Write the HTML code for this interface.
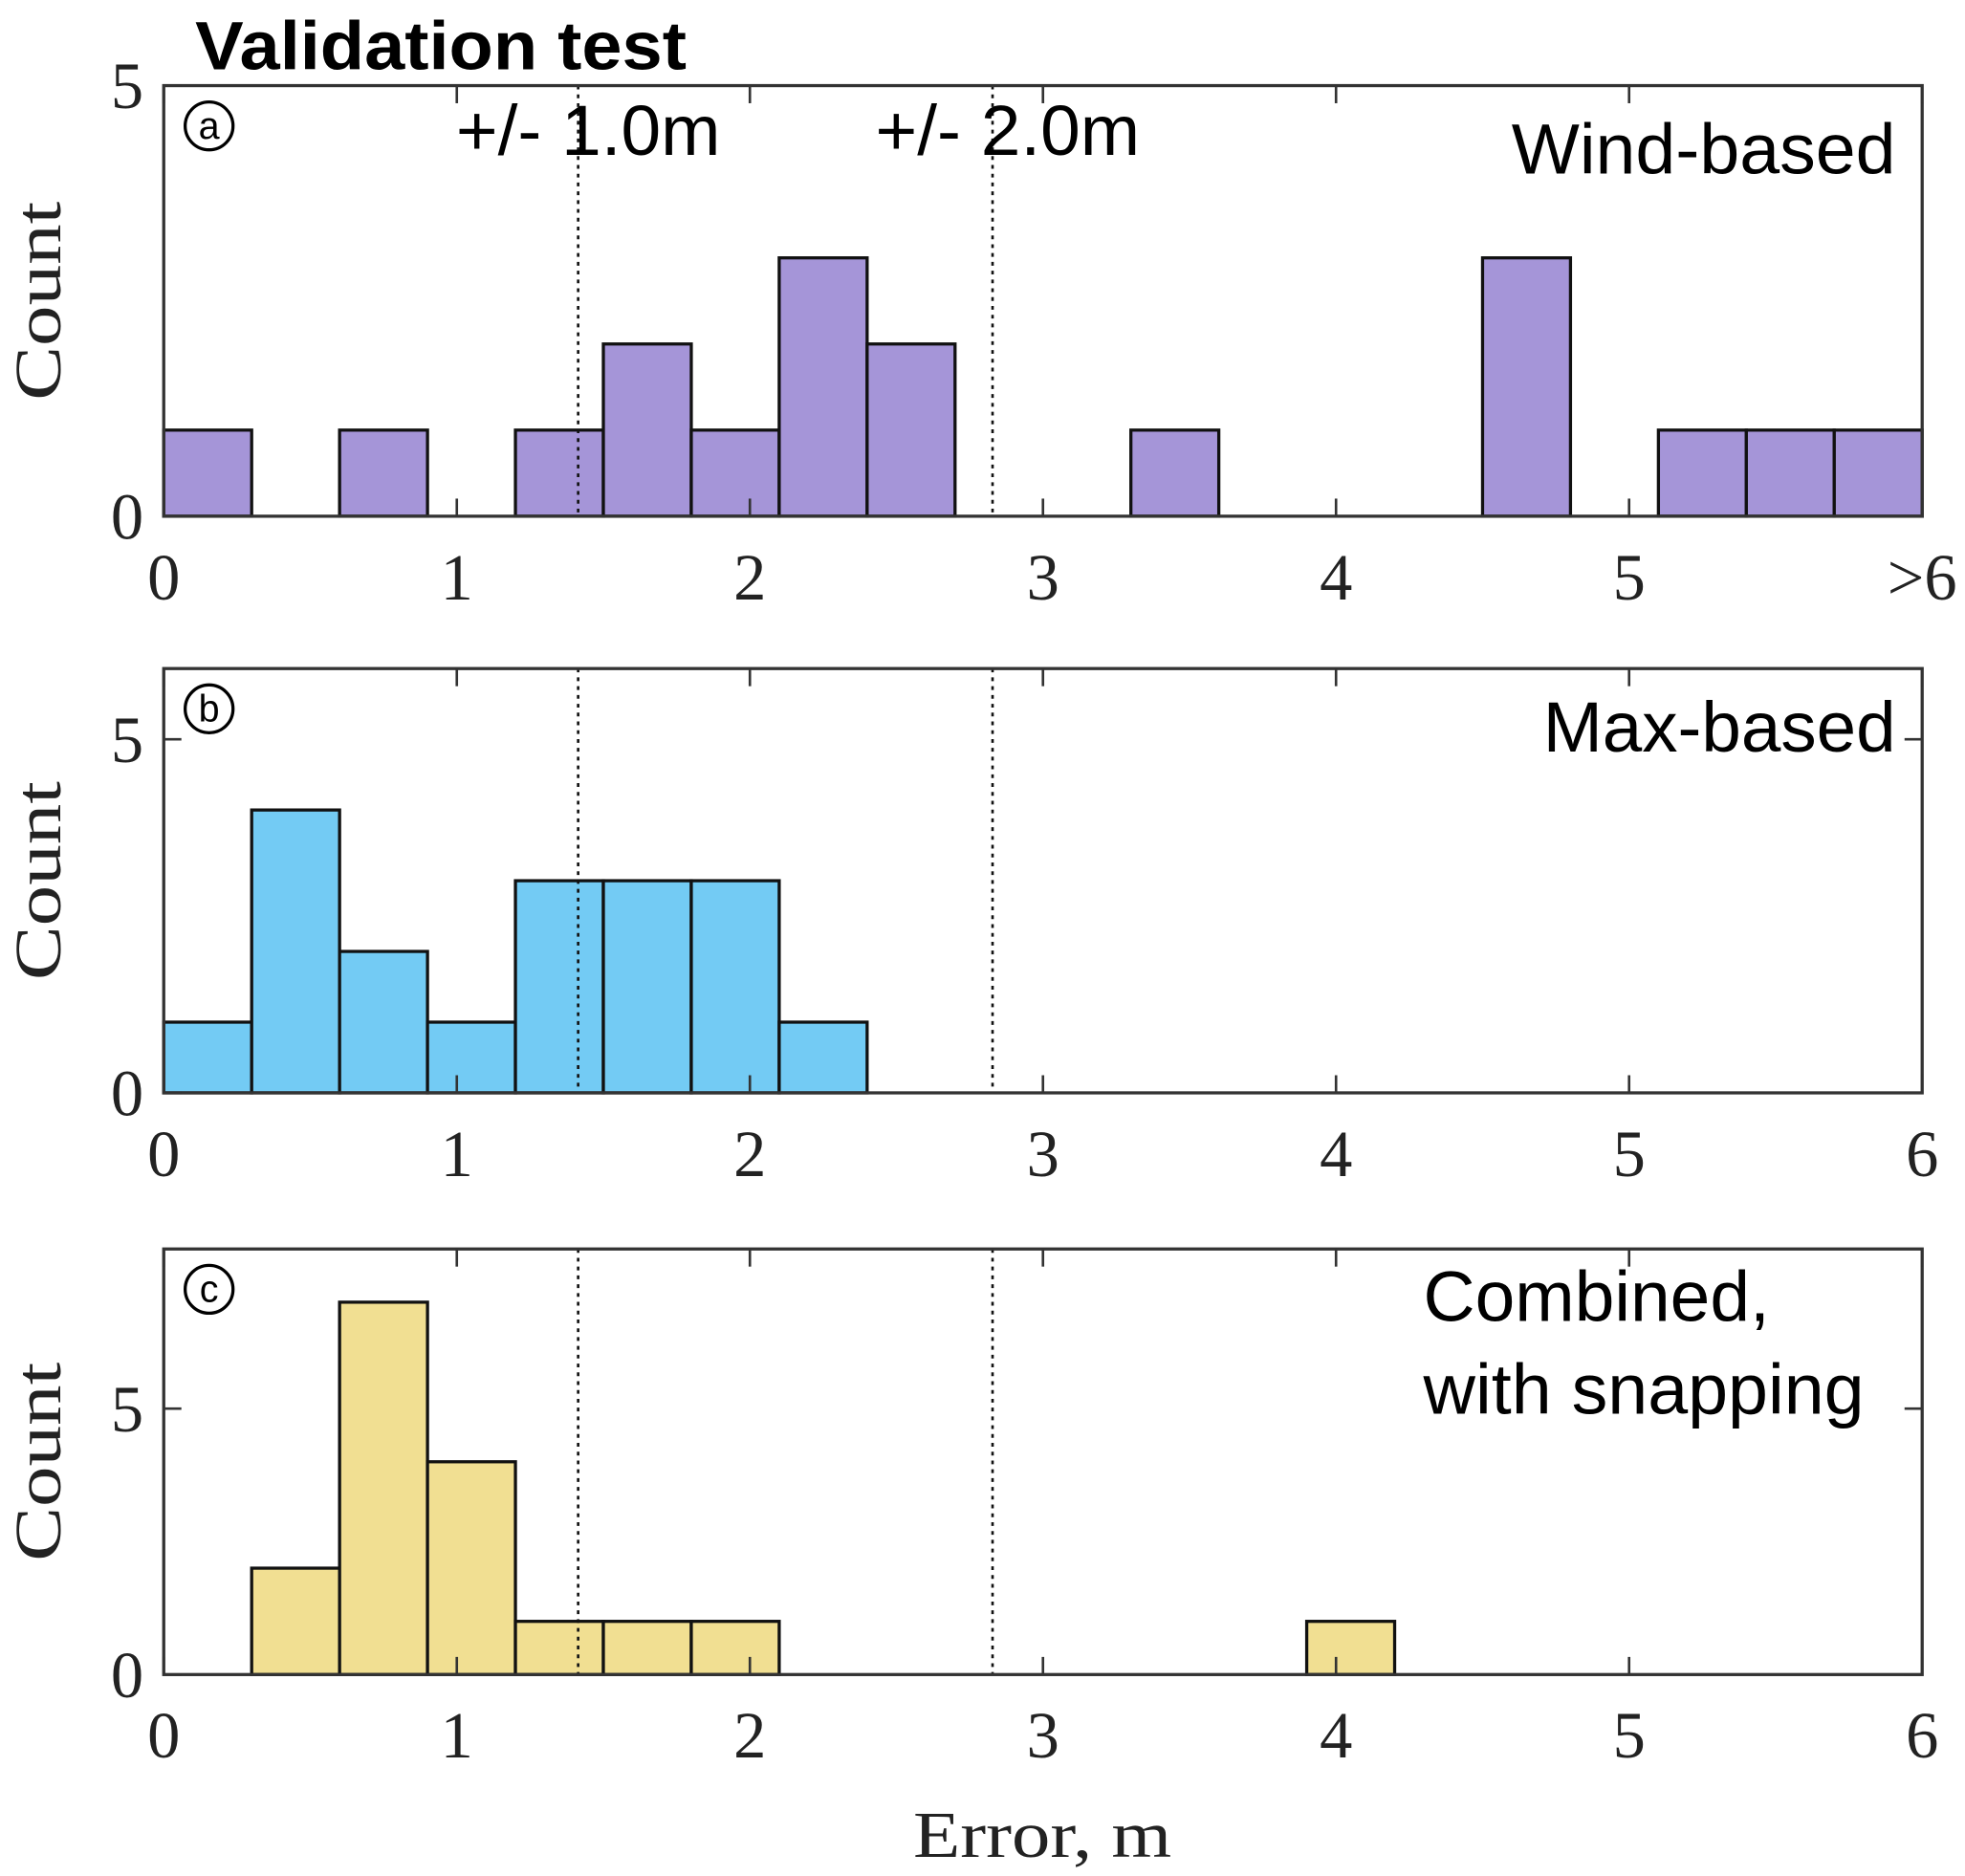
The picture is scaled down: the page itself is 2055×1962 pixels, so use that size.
<!DOCTYPE html>
<html><head><meta charset="utf-8"><style>
html,body{margin:0;padding:0;background:#fff;}
svg{display:block;}
.tick{font-family:"Liberation Serif",serif;font-size:52px;fill:#222;}
.ann{font-family:"Liberation Sans",sans-serif;font-size:56px;fill:#000;}
</style></head><body>
<svg id="chart" xmlns="http://www.w3.org/2000/svg" width="2055" height="1962" viewBox="0 0 1560 1490" preserveAspectRatio="none">
<text x="155" y="55" font-family="Liberation Sans, sans-serif" font-weight="bold" font-size="54" textLength="390" lengthAdjust="spacingAndGlyphs">Validation test</text>
</svg>
<script>
const binWidth = 0.3;
const countsWind = [1,0,1,0,1,2,1,3,2,0,0,1,0,0,0,3,0,1,1,1];
const countsMax = [1,4,2,1,3,3,3,1,0,0,0,0,0,0,0,0,0,0,0,0];
const countsCombined = [0,2,7,4,1,1,1,0,0,0,0,0,0,1,0,0,0,0,0,0];
const xTicks = [0,1,2,3,4,5,6];
const xLabelsA = ["0","1","2","3","4","5",">6"];
const xLabelsB = ["0","1","2","3","4","5","6"];
const refLines = [1.414, 2.828];
const refLabels = ["+/- 1.0m", "+/- 2.0m"];

const NS = "http://www.w3.org/2000/svg";
const svg = document.getElementById('chart');
function mk(tag, attrs, parent){const e=document.createElementNS(NS,tag);for(const k in attrs)e.setAttribute(k,attrs[k]);(parent||svg).appendChild(e);return e;}

const X0=130, X1=1526;
function xs(v){return X0+(X1-X0)*v/6;}

const panels=[
 {key:'a',top:68,bottom:410,ymax:5,counts:countsWind,color:'#a595d8',labels:xLabelsA,letter:'a',lines:['Wind-based'],lx:[1200],lw:[305],ly:[138],rTick:false},
 {key:'b',top:531,bottom:868,ymax:6,counts:countsMax,color:'#73cbf4',labels:xLabelsB,letter:'b',lines:['Max-based'],lx:[1225],lw:[280],ly:[597],rTick:true},
 {key:'c',top:992,bottom:1330,ymax:8,counts:countsCombined,color:'#f1df92',labels:xLabelsB,letter:'c',lines:['Combined,','with snapping'],lx:[1130,1130],lw:[275,350],ly:[1049,1123],rTick:true}
];

panels.forEach(p=>{
  const g=mk('g',{});
  
  
  const ys=v=>p.bottom-(p.bottom-p.top)*v/p.ymax;
  p.counts.forEach((c,i)=>{
    if(c<=0) return;
    const r=mk('rect',{x:xs(i*binWidth),y:ys(c),width:xs((i+1)*binWidth)-xs(i*binWidth),height:ys(0)-ys(c),fill:p.color,stroke:'#111','stroke-width':2.5},g);
    
    
  });
  refLines.forEach((v,i)=>{
    const l=mk('line',{x1:xs(v),x2:xs(v),y1:p.top,y2:p.bottom,stroke:'#111','stroke-width':2,'stroke-dasharray':'3,4'},g);
    
    
  });
  const f=mk('rect',{x:X0,y:p.top,width:X1-X0,height:p.bottom-p.top,fill:'none',stroke:'#333','stroke-width':2.5},g);
  
  
  xTicks.forEach((t,i)=>{
    mk('line',{x1:xs(t),x2:xs(t),y1:p.top,y2:p.top+14,stroke:'#333','stroke-width':2},g);
    mk('line',{x1:xs(t),x2:xs(t),y1:p.bottom,y2:p.bottom-14,stroke:'#333','stroke-width':2},g);
    const tx=mk('text',{x:xs(t),y:p.bottom+66,'text-anchor':'middle',class:'tick'},g);
    tx.textContent=p.labels[i];
    
    
  });
  [0,5].forEach(v=>{
    mk('line',{x1:X0,x2:X0+14,y1:ys(v),y2:ys(v),stroke:'#333','stroke-width':2},g);
    if(p.rTick) mk('line',{x1:X1,x2:X1-14,y1:ys(v),y2:ys(v),stroke:'#333','stroke-width':2},g);
    const ty=mk('text',{x:114,y:ys(v)+18,'text-anchor':'end',class:'tick'},g);
    ty.textContent=String(v);
    
    
  });
  const yl=mk('text',{x:0,y:0,transform:`translate(48,${(p.top+p.bottom)/2}) rotate(-90)`,'text-anchor':'middle',class:'tick','font-size':'62',textLength:'158',lengthAdjust:'spacingAndGlyphs'},g);
  yl.textContent='Count';
  
  
  const cy=p.top+32;
  mk('circle',{cx:166,cy:cy,r:19,fill:'none',stroke:'#000','stroke-width':2.5},g);
  const lt=mk('text',{x:166,y:cy+10,'text-anchor':'middle','font-family':'Liberation Sans, sans-serif','font-size':'30'},g);
  lt.textContent=p.letter;
  
  
  p.lines.forEach((s,i)=>{
    const t=mk('text',{x:p.lx[i],y:p.ly[i],class:'ann',textLength:p.lw[i],lengthAdjust:'spacingAndGlyphs'},g);
    t.textContent=s;
    
    
  });
});
[362,695].forEach((x,i)=>{
  const t=mk('text',{x:x,y:123,class:'ann',textLength:'210',lengthAdjust:'spacingAndGlyphs'});
  t.textContent=refLabels[i];
  
  
});
const xt=mk('text',{x:725,y:1475,class:'tick','font-size':'60',textLength:'205',lengthAdjust:'spacingAndGlyphs'});
xt.textContent='Error, m';


</script>
</body></html>
